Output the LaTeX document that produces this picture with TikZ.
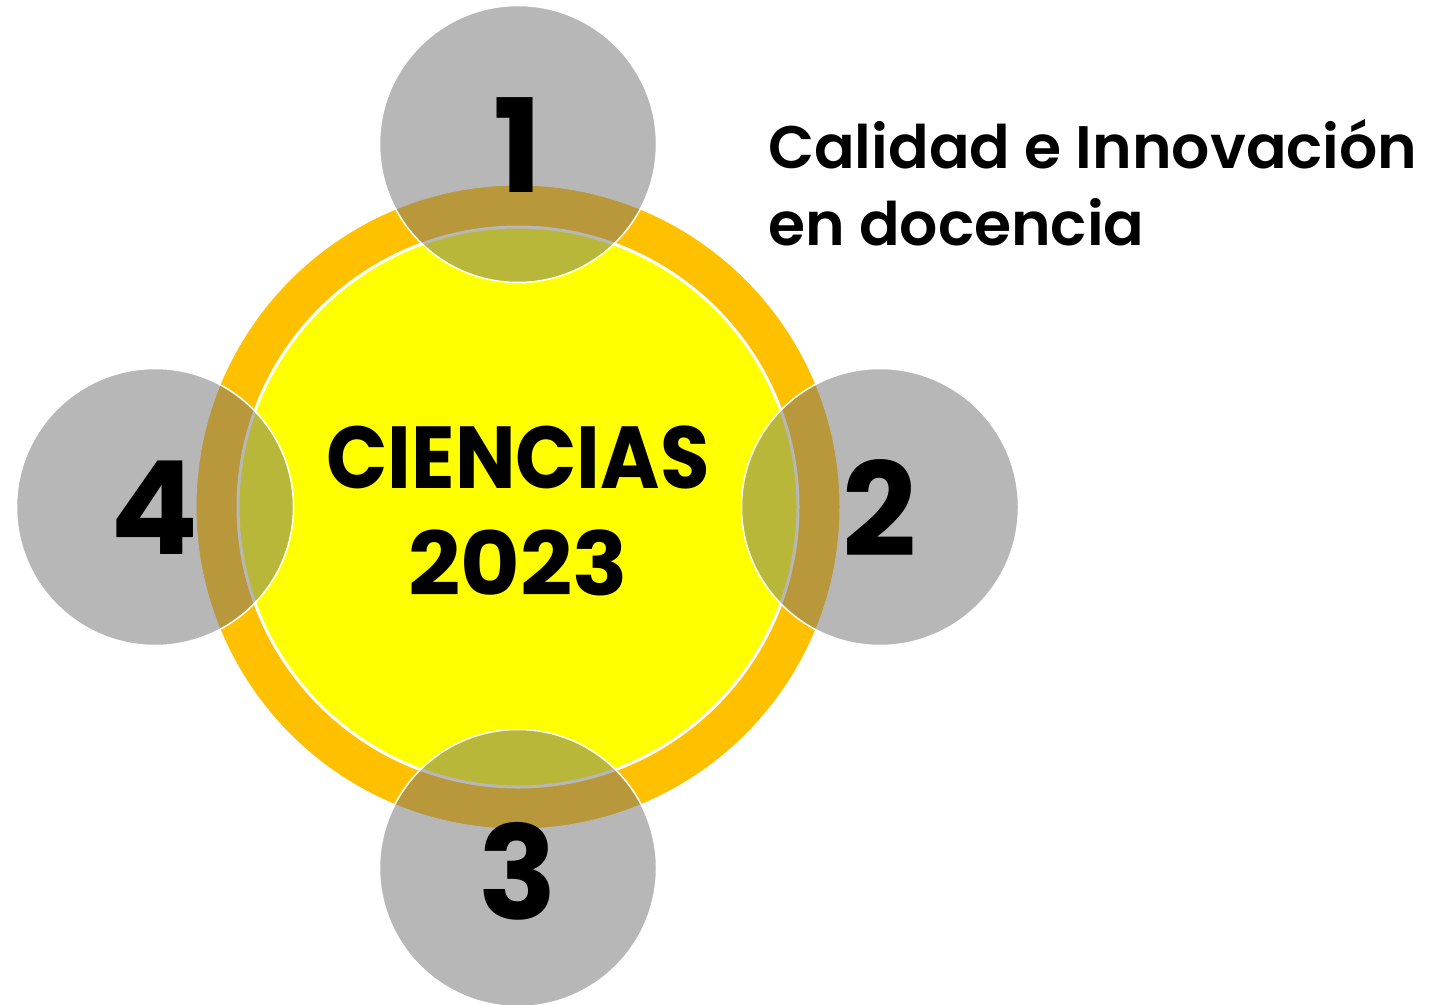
\documentclass[tikz,border=0pt]{standalone}
\usepackage{fontspec}
\setmainfont{Poppins}
\newfontfamily\psemi{Poppins SemiBold}
\definecolor{ringorange}{HTML}{FFC000}
\definecolor{coreyellow}{HTML}{FFFF00}
\definecolor{bubblegray}{RGB}{116,114,115}
\tikzset{
  bubble/.style={circle, minimum size=277pt, inner sep=0pt, fill=bubblegray, fill opacity=0.51, draw=white, draw opacity=1, line width=1.5pt},
  numlabel/.style={font=\fontsize{130}{130}\selectfont\bfseries, text=black, inner sep=0pt, anchor=center},
  sidetext/.style={font=\psemi\fontsize{60}{77}\selectfont, anchor=base west, inner sep=0pt},
}
\begin{document}
\begin{tikzpicture}[x=1pt,y=-1pt]
\useasboundingbox (0,0) rectangle (1432,1004);
\node[circle, minimum size=644pt, inner sep=0pt, fill=ringorange, draw=white, line width=1pt] (ring) at (518,507) {};
\node[circle, minimum size=560pt, inner sep=0pt, fill=coreyellow, draw=white, line width=3pt] (core) at (518,507) {};
\node[bubble] (b1) at (518,144) {};
\node[bubble] (b2) at (880,507) {};
\node[bubble] (b3) at (518,868) {};
\node[bubble] (b4) at (155,507) {};
\node[numlabel] (n1) at (518,145) {1};
\node[numlabel] (n2) at (880,508) {2};
\node[numlabel] (n3) at (518,871) {3};
\node[numlabel] (n4) at (155,508) {4};
\node[font=\fontsize{88}{106}\selectfont\bfseries, inner sep=0pt, xscale=0.915] (title1) at (518,457) {CIENCIAS};
\node[font=\fontsize{88}{106}\selectfont\bfseries, inner sep=0pt, xscale=1.04] (title2) at (518,563) {2023};
\node[sidetext] (side1) at (768,168) {Calidad e Innovación};
\node[sidetext] (side2) at (768,245) {en docencia};
\end{tikzpicture}
\end{document}
